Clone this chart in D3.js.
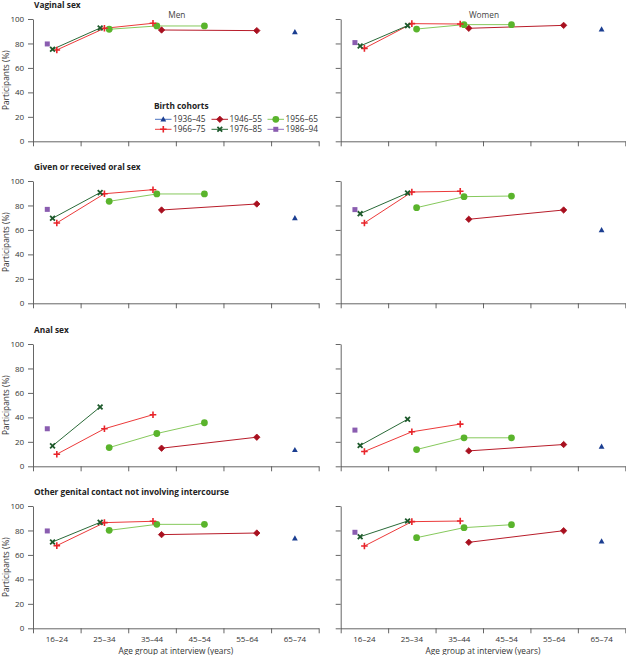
<!DOCTYPE html>
<html>
<head>
<meta charset="utf-8">
<script src="https://cdn.jsdelivr.net/npm/d3@7"></script>
<style>
  body { margin: 0; background: #fff; }
  svg { display: block; font-family: "Open Sans", sans-serif; }
  .tick text { fill: #333; }
</style>
</head>
<body>
<svg id="chart" width="626" height="655"></svg>
<script>
// birth cohorts and where their interview points sit on the age scale
const cohorts = ["1936–45", "1946–55", "1956–65", "1966–75", "1976–85", "1986–94"];
const cohortAges = [[70.0], [42.0, 62.0], [31.0, 41.0, 51.0], [20.0, 30.0, 40.2], [19.1, 29.1], [18.0]];

const ageGroups = ["16–24", "25–34", "35–44", "45–54", "55–64", "65–74"];
const ageGroupMid = [20, 30, 40, 50, 60, 70];
const ageTicks = [15, 25, 35, 45, 55, 65, 75];
const pctTicks = [0, 20, 40, 60, 80, 100];

const activities = ["Vaginal sex", "Given or received oral sex", "Anal sex",
  "Other genital contact not involving intercourse"];

// % of participants, one array per cohort (same order as cohorts)
const menVaginal = [[89.4], [91.0, 90.5], [91.6, 94.3, 94.3], [74.7, 92.4, 96.5], [75.2, 92.6], [79.6]];
const womenVaginal = [[91.6], [92.4, 94.8], [91.8, 95.4, 95.4], [76.0, 96.2, 95.9], [77.9, 94.6], [80.7]];
const menOral = [[69.8], [76.3, 81.2], [83.4, 89.4, 89.4], [65.7, 89.6, 92.9], [69.5, 90.5], [76.8]];
const womenOral = [[59.9], [68.7, 76.3], [78.2, 87.2, 87.7], [65.7, 91.0, 91.6], [73.3, 90.2], [76.6]];
const menAnal = [[13.4], [14.8, 23.8], [15.3, 26.8, 35.6], [9.9, 30.7, 42.2], [16.7, 48.5], [30.7]];
const womenAnal = [[16.2], [12.6, 17.8], [13.7, 23.3, 23.3], [12.1, 28.2, 34.5], [17.0, 38.4], [29.6]];
const menOther = [[73.6], [76.6, 77.9], [80.1, 85.0, 85.0], [67.6, 86.4, 87.5], [70.6, 86.6], [79.6]];
const womenOther = [[71.1], [70.3, 79.8], [74.1, 82.3, 84.7], [67.3, 87.2, 87.7], [74.9, 87.7], [78.5]];

const menData = [menVaginal, menOral, menAnal, menOther];
const womenData = [womenVaginal, womenOral, womenAnal, womenOther];

// styling
const markerColor = ["#1b3e91", "#a8101f", "#5ab42c", "#e8252b", "#1e5a2c", "#8a5db0"];
const lineColor = ["#4a72c0", "#b81c2a", "#86c95c", "#ec3a3a", "#2a6a38", "#9370bb"];
const shapes = ["triangle", "diamond", "circle", "plus", "cross", "square"];

const svg = d3.select("#chart");
const axisColor = "#555";
const panelTop = [19, 181, 344, 506];
const panelH = 122.3;
const sides = [
  { label: "Men", x0: 33, x1: 318.7, data: menData, showY: true },
  { label: "Women", x0: 340.7, x1: 625.3, data: womenData, showY: false }
];

function drawMarker(g, shape, color) {
  if (shape === "plus") {
    g.append("path").attr("d", "M-3.3,0H3.3M0,-3.3V3.3")
      .attr("stroke", color).attr("stroke-width", 1.6).attr("fill", "none");
  } else if (shape === "cross") {
    g.append("path").attr("d", "M-2.4,-2.4L2.4,2.4M-2.4,2.4L2.4,-2.4")
      .attr("stroke", color).attr("stroke-width", 1.8).attr("fill", "none");
  } else if (shape === "circle") {
    g.append("circle").attr("r", 3.4).attr("fill", color);
  } else if (shape === "square") {
    g.append("rect").attr("x", -2.5).attr("y", -2.5).attr("width", 5).attr("height", 5).attr("fill", color);
  } else if (shape === "diamond") {
    g.append("path").attr("d", "M0,-3.2L3.2,0L0,3.2L-3.2,0Z").attr("fill", color)
      .attr("stroke", color).attr("stroke-width", 0.8).attr("stroke-linejoin", "round");
  } else if (shape === "triangle") {
    g.append("path").attr("d", "M0,-3L2.9,2.2L-2.9,2.2Z").attr("fill", color);
  }
}

activities.forEach((title, p) => {
  const top = panelTop[p];
  const y = d3.scaleLinear().domain([0, 100]).range([top + panelH, top]);

  svg.append("text")
    .attr("x", 34).attr("y", top - 11.5)
    .attr("font-size", 8.3).attr("font-weight", "bold").attr("fill", "#222")
    .text(title);

  sides.forEach(side => {
    const x = d3.scaleLinear().domain([15, 75]).range([side.x0, side.x1]);
    const g = svg.append("g");

    // y axis
    const ya = g.append("g")
      .attr("transform", `translate(${side.x0},0)`)
      .call(d3.axisLeft(y).tickValues(pctTicks).tickSize(5).tickSizeOuter(0)
        .tickFormat(side.showY ? d3.format("d") : ""));
    ya.selectAll("text").attr("font-size", 8).attr("font-family", "Open Sans").attr("dx", "-0.1em");

    // x axis
    const xa = g.append("g")
      .attr("transform", `translate(0,${top + panelH})`)
      .call(d3.axisBottom(x).tickValues(ageTicks).tickSize(5).tickSizeOuter(0).tickFormat(""));
    [ya, xa].forEach(a => {
      a.select(".domain").attr("stroke", axisColor).attr("stroke-width", 0.9);
      a.selectAll(".tick line").attr("stroke", axisColor).attr("stroke-width", 0.9);
    });

    if (p === 0) {
      g.append("text")
        .attr("x", (side.x0 + side.x1) / 2 + 1).attr("y", 17.5)
        .attr("text-anchor", "middle").attr("font-size", 8.3).attr("fill", "#444")
        .text(side.label);
    }

    if (p === activities.length - 1) {
      g.selectAll(".agelab").data(ageGroups).enter().append("text")
        .attr("x", (d, i) => x(ageGroupMid[i]))
        .attr("y", top + panelH + 14)
        .attr("text-anchor", "middle").attr("font-size", 8).attr("fill", "#333")
        .text(d => d);
      g.append("text")
        .attr("x", (side.x0 + side.x1) / 2).attr("y", top + panelH + 26)
        .attr("text-anchor", "middle").attr("font-size", 8.3).attr("fill", "#333")
        .text("Age group at interview (years)");
    }

    const line = d3.line().x(d => x(d[0])).y(d => y(d[1]));
    const vals = side.data[p];

    cohorts.forEach((c, ci) => {
      const pts = cohortAges[ci].map((a, k) => [a, vals[ci][k]]);
      if (pts.length > 1) {
        g.append("path").datum(pts).attr("d", line)
          .attr("fill", "none").attr("stroke", lineColor[ci]).attr("stroke-width", 1);
      }
    });
    cohorts.forEach((c, ci) => {
      cohortAges[ci].forEach((a, k) => {
        const m = g.append("g").attr("transform", `translate(${x(a)},${y(vals[ci][k])})`);
        drawMarker(m, shapes[ci], markerColor[ci]);
      });
    });
  });

  // y axis title on the men's side
  svg.append("text")
    .attr("transform", `translate(9,${top + panelH / 2}) rotate(-90)`)
    .attr("text-anchor", "middle").attr("font-size", 8.3).attr("fill", "#333")
    .text("Participants (%)");
});

// legend inside the first men panel
const leg = svg.append("g");
leg.append("text").attr("x", 154).attr("y", 109)
  .attr("font-size", 8.3).attr("font-weight", "bold").attr("fill", "#222")
  .text("Birth cohorts");
const legX = [155, 211.5, 267.5];
const legY = [119.3, 129.3];
cohorts.forEach((c, ci) => {
  const lx = legX[ci % 3], ly = legY[Math.floor(ci / 3)];
  leg.append("line").attr("x1", lx).attr("x2", lx + 16.5).attr("y1", ly).attr("y2", ly)
    .attr("stroke", lineColor[ci]).attr("stroke-width", 1);
  const m = leg.append("g").attr("transform", `translate(${lx + 8.3},${ly})`);
  drawMarker(m, shapes[ci], markerColor[ci]);
  leg.append("text").attr("x", lx + 18).attr("y", ly + 3)
    .attr("font-size", 8.3).attr("fill", "#333").text(c);
});
</script>
</body>
</html>
